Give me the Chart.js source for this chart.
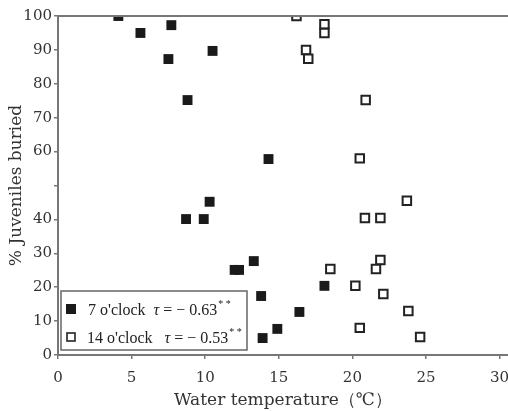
<!DOCTYPE html>
<html>
<head>
<meta charset="utf-8">
<script src="https://cdn.jsdelivr.net/npm/chart.js@4.4.1/dist/chart.umd.min.js"></script>
<style>
  html, body { margin: 0; padding: 0; background: #fff; }
  #wrap { width: 508px; height: 411px; }
</style>
</head>
<body>
<div id="wrap"><canvas id="burialChart"></canvas></div>
<script>
// Juvenile burial vs water temperature, two sampling times

// 7 o'clock samples
const sevenTemp = [4.1, 5.6, 7.7, 7.5, 10.5, 8.8, 10.3, 8.7, 9.9, 12.0, 12.3, 13.3, 14.3, 13.8, 13.9, 14.9, 16.4, 18.1];
const sevenBuried = [100, 95, 97.3, 87.3, 89.7, 75.2, 45.2, 40.1, 40.1, 25.1, 25.1, 27.7, 57.8, 17.4, 5.0, 7.7, 12.7, 20.4];

// 14 o'clock samples
const fourteenTemp = [16.2, 18.1, 18.1, 16.85, 17.0, 20.9, 20.5, 23.7, 20.85, 21.9, 21.9, 21.6, 18.5, 20.2, 22.1, 23.8, 20.5, 24.6];
const fourteenBuried = [100, 97.6, 95, 90, 87.4, 75.2, 58, 45.5, 40.4, 40.4, 28, 25.4, 25.4, 20.4, 18, 13, 8, 5.3];

const xTicks = [0, 5, 10, 15, 20, 25, 30];
const yTicks = [0, 10, 20, 30, 40, 60, 70, 80, 90, 100];

const legendRows = [
  { label: "7 o'clock", tau: "= \u2212 0.63", filled: true },
  { label: "14 o'clock", tau: "= \u2212 0.53", filled: false },
];

function toPoints(xs, ys) {
  return xs.map((x, i) => ({ x: x, y: ys[i] }));
}

const axisColor = "#777";
const textColor = "#333";
const serif = "'DejaVu Serif', 'Liberation Serif', serif";
const legendFont = "'Liberation Serif', serif";

// top frame line + legend box drawn inside the plot
const framePlugin = {
  id: "frame",
  afterDraw(chart) {
    const ctx = chart.ctx;
    const a = chart.chartArea;
    ctx.save();
    ctx.strokeStyle = axisColor;
    ctx.lineWidth = 2;
    ctx.beginPath();
    ctx.moveTo(a.left, a.top);
    ctx.lineTo(chart.width, a.top);
    ctx.stroke();

    // legend box
    const bx = 61, by = 291, bw = 186, bh = 59;
    ctx.fillStyle = "#fff";
    ctx.fillRect(bx, by, bw, bh);
    ctx.strokeStyle = "#666";
    ctx.lineWidth = 1.5;
    ctx.strokeRect(bx, by, bw, bh);

    ctx.textBaseline = "alphabetic";
    legendRows.forEach((row, i) => {
      const cy = by + 18 + i * 28;
      if (row.filled) {
        ctx.fillStyle = "#1a1a1a";
        ctx.fillRect(bx + 5, cy - 5, 10, 10);
      } else {
        ctx.fillStyle = "#fff";
        ctx.fillRect(bx + 6, cy - 4, 8, 8);
        ctx.strokeStyle = "#222";
        ctx.lineWidth = 1.6;
        ctx.strokeRect(bx + 6, cy - 4, 8, 8);
      }
      ctx.fillStyle = "#222";
      ctx.font = "16px " + legendFont;
      let tx = bx + (row.filled ? 27 : 26);
      ctx.fillText(row.label, tx, cy + 6);
      tx += ctx.measureText(row.label).width + (row.filled ? 8 : 12);
      ctx.font = "italic 16px " + legendFont;
      ctx.fillText("\u03c4", tx, cy + 6);
      tx += ctx.measureText("\u03c4").width + 4;
      ctx.font = "16px " + legendFont;
      ctx.fillText(row.tau, tx, cy + 6);
      tx += ctx.measureText(row.tau).width + 1;
      ctx.font = "10px " + legendFont;
      ctx.fillText("* *", tx, cy - 2);
    });
    ctx.restore();
  },
};

const ctx = document.getElementById("burialChart").getContext("2d");

new Chart(ctx, {
  type: "scatter",
  data: {
    datasets: [
      {
        label: "7 o'clock",
        data: toPoints(sevenTemp, sevenBuried),
        pointStyle: "rect",
        pointRadius: 7,
        pointHoverRadius: 7,
        backgroundColor: "#1a1a1a",
        borderColor: "#1a1a1a",
        borderWidth: 0,
      },
      {
        label: "14 o'clock",
        data: toPoints(fourteenTemp, fourteenBuried),
        pointStyle: "rect",
        pointRadius: 6,
        pointHoverRadius: 6,
        backgroundColor: "#fff",
        borderColor: "#222",
        borderWidth: 2,
      },
    ],
  },
  options: {
    responsive: true,
    maintainAspectRatio: false,
    animation: false,
    layout: { autoPadding: false, padding: { top: 16, right: 0, left: 0, bottom: 0 } },
    plugins: {
      legend: { display: false },
      tooltip: { enabled: false },
    },
    scales: {
      x: {
        type: "linear",
        min: 0,
        max: 30.57,
        afterBuildTicks: (scale) => {
          scale.ticks = xTicks.map((v) => ({ value: v }));
        },
        afterFit: (scale) => {
          scale.height = 56;
          scale.paddingRight = 0;
          scale.paddingLeft = 0;
        },
        grid: {
          drawOnChartArea: false,
          color: axisColor,
          tickLength: 4,
          lineWidth: 1.5,
        },
        border: { color: axisColor, width: 2 },
        ticks: {
          color: textColor,
          font: { family: serif, size: 15 },
          padding: 10,
          maxRotation: 0,
        },
        title: {
          display: true,
          text: "Water temperature\uff08\u2103\uff09",
          color: textColor,
          font: { family: serif, size: 17 },
          padding: { top: 0, bottom: 0 },
        },
      },
      y: {
        type: "linear",
        min: 0,
        max: 100,
        afterBuildTicks: (scale) => {
          scale.ticks = [0, 10, 20, 30, 40, 50, 60, 70, 80, 90, 100].map((v) => ({ value: v }));
        },
        afterFit: (scale) => {
          scale.width = 58;
          scale.paddingTop = 0;
          scale.paddingBottom = 0;
        },
        grid: {
          drawOnChartArea: false,
          color: axisColor,
          tickLength: 4,
          lineWidth: 1.5,
        },
        border: { color: axisColor, width: 2 },
        ticks: {
          color: textColor,
          font: { family: serif, size: 15 },
          padding: 2,
          callback: (v) => (yTicks.includes(v) ? String(v) : ""),
        },
        title: {
          display: true,
          text: "% Juveniles buried",
          color: textColor,
          font: { family: serif, size: 17 },
          padding: { top: 6, bottom: 0 },
        },
      },
    },
  },
  plugins: [framePlugin],
});
</script>
</body>
</html>
